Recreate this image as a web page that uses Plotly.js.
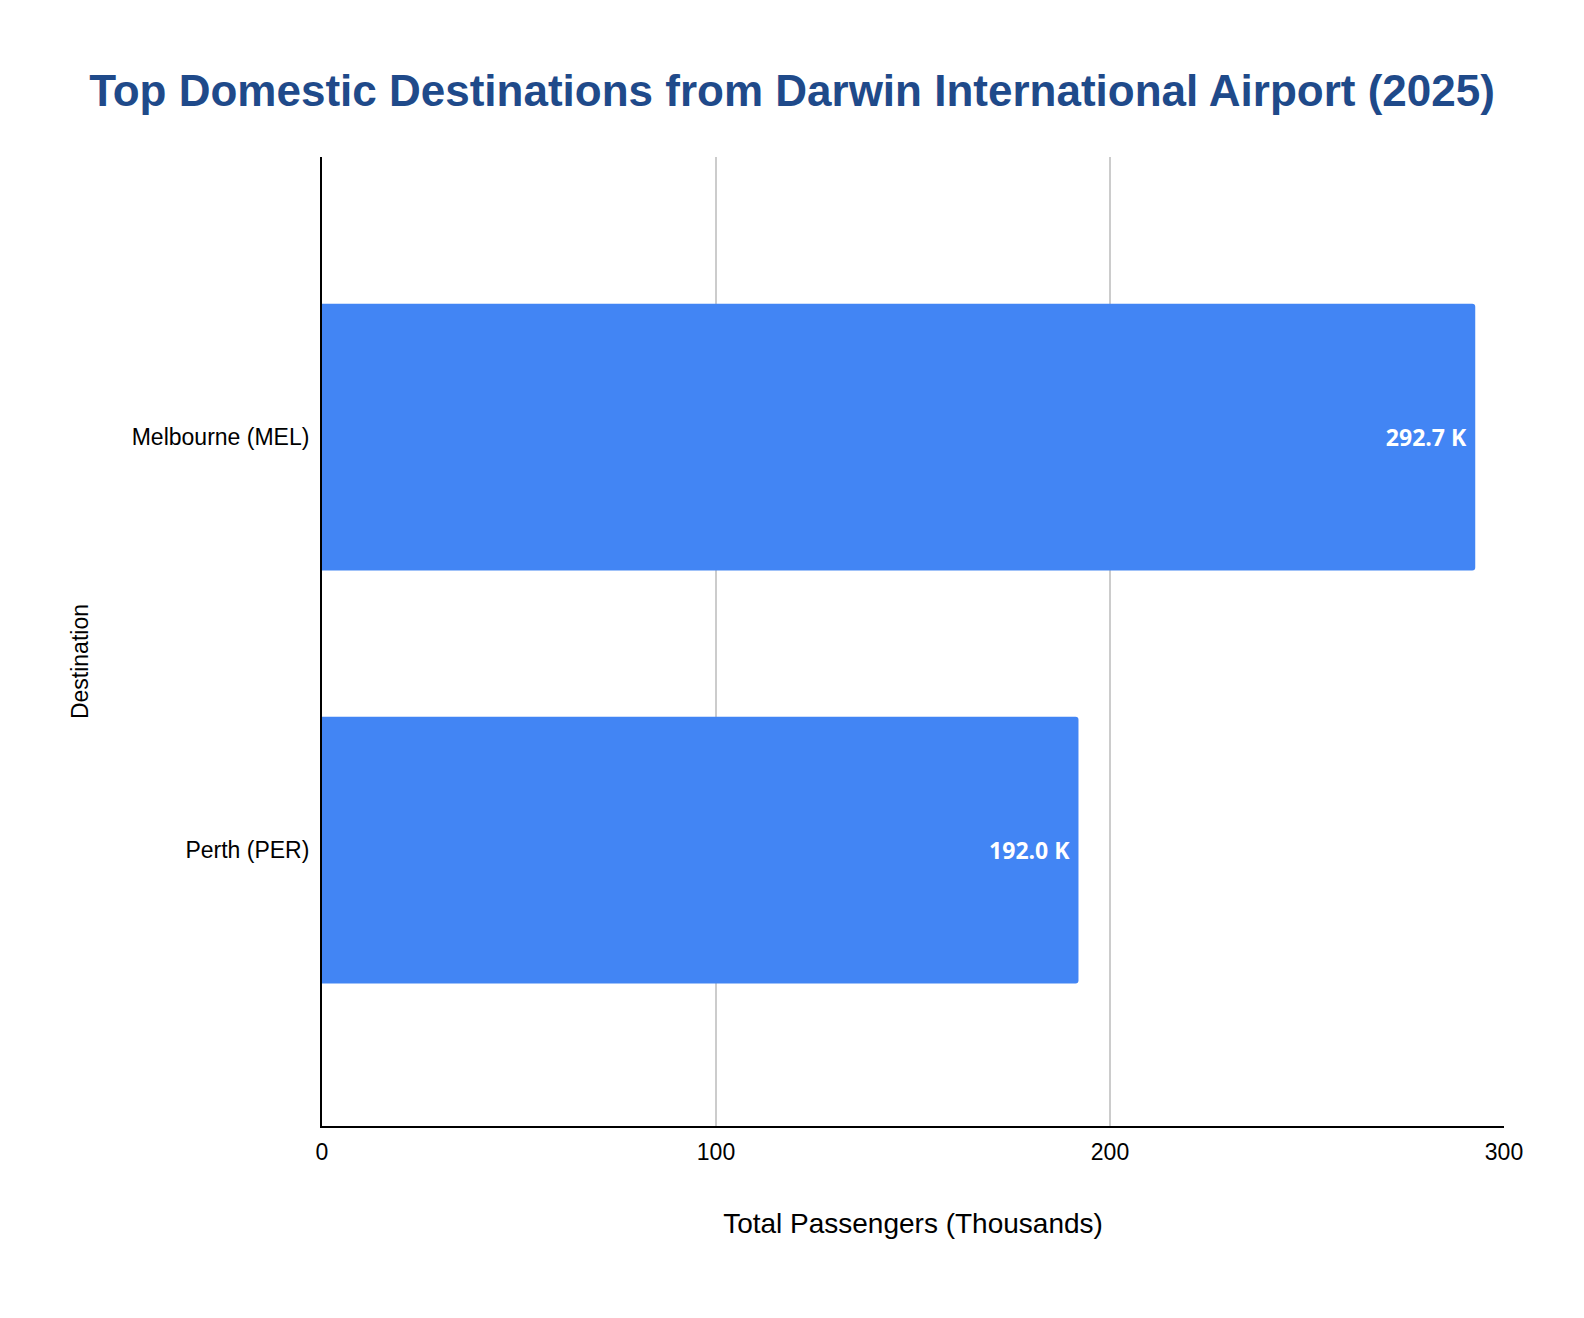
<!DOCTYPE html>
<html>
<head>
<meta charset="utf-8">
<script src="https://cdn.plot.ly/plotly-3.0.1.min.js"></script>
<style>html,body{margin:0;padding:0;background:#fff;}#chart{width:1584px;height:1318px;}</style>
</head>
<body>
<div id="chart"></div>
<script>
const destinations = ["Perth (PER)", "Melbourne (MEL)"];
const passengersK = [192.0, 292.7];
const valueLabels = passengersK.map(v => v.toFixed(1) + " K\u00a0");
const xTicks = [0, 100, 200, 300];

const trace = {
  type: "bar",
  orientation: "h",
  y: destinations,
  x: passengersK,
  text: valueLabels,
  textposition: "inside",
  insidetextanchor: "end",
  textfont: {family: "Open Sans, sans-serif", size: 23, color: "#ffffff", weight: "bold"},
  marker: {color: "#4285f4"},
  width: 0.646,
  hoverinfo: "none"
};

const layout = {
  width: 1584, height: 1318,
  margin: {l: 322, r: 80, t: 157, b: 192},
  paper_bgcolor: "#ffffff", plot_bgcolor: "#ffffff",
  barcornerradius: 3,
  showlegend: false,
  title: {
    text: "<b>Top Domestic Destinations from Darwin International Airport (2025)</b>",
    font: {family: "Liberation Sans, Arial, sans-serif", size: 44, color: "#1f4a8a"},
    x: 0.5, xanchor: "center", y: 0.931, yanchor: "middle"
  },
  xaxis: {
    range: [0, 300],
    tickvals: xTicks,
    ticktext: xTicks.map(String),
    showgrid: true, gridcolor: "#cccccc", gridwidth: 2,
    showline: true, linecolor: "#000000", linewidth: 2,
    zeroline: false, ticks: "", ticklen: 0,
    ticklabelstandoff: 4,
    tickfont: {family: "Liberation Sans, Arial, sans-serif", size: 23, color: "#000000"},
    title: {text: "Total Passengers (Thousands)", font: {family: "Liberation Sans, Arial, sans-serif", size: 28, color: "#000000"}, standoff: 50},
    automargin: false
  },
  yaxis: {
    type: "category",
    range: [-0.668, 1.678],
    showgrid: false,
    showline: true, linecolor: "#000000", linewidth: 2,
    zeroline: false, ticks: "", ticklen: 0,
    ticklabelstandoff: 6,
    tickfont: {family: "Liberation Sans, Arial, sans-serif", size: 23, color: "#000000"},
    automargin: false
  },
  annotations: [{
    text: "Destination",
    xref: "paper", yref: "paper",
    x: -0.2047, y: 0.4788,
    xanchor: "center", yanchor: "middle",
    textangle: -90, showarrow: false,
    font: {family: "Liberation Sans, Arial, sans-serif", size: 23, color: "#000000"}
  }]
};

Plotly.newPlot("chart", [trace], layout, {displayModeBar: false, staticPlot: true});
</script>
</body>
</html>
